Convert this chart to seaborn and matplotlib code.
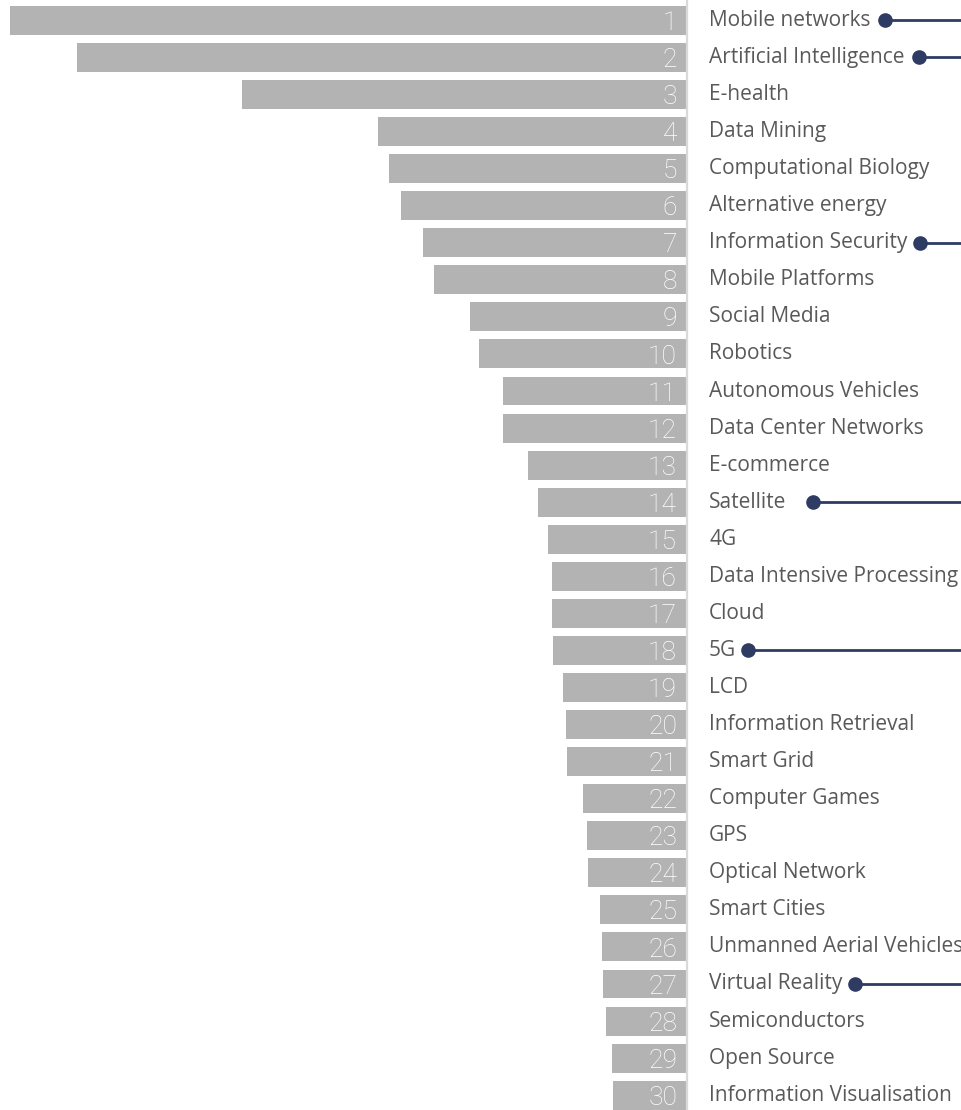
import matplotlib
matplotlib.use("Agg")
import matplotlib.pyplot as plt
import seaborn as sns
import pandas as pd
import numpy as np

topics = ["Mobile networks", "Artificial Intelligence", "E-health", "Data Mining",
          "Computational Biology", "Alternative energy", "Information Security",
          "Mobile Platforms", "Social Media", "Robotics", "Autonomous Vehicles",
          "Data Center Networks", "E-commerce", "Satellite", "4G",
          "Data Intensive Processing", "Cloud", "5G", "LCD", "Information Retrieval",
          "Smart Grid", "Computer Games", "GPS", "Optical Network", "Smart Cities",
          "Unmanned Aerial Vehicles", "Virtual Reality", "Semiconductors",
          "Open Source", "Information Visualisation"]
scores = [676, 609, 444, 308, 297, 285, 263, 252, 216, 207, 183, 183, 158, 148, 138,
          134, 134, 133, 123, 120, 119, 103, 99, 98, 86, 84, 83, 80, 74, 73]
ranks = list(range(1, 31))
highlighted = ["Mobile networks", "Artificial Intelligence", "Information Security",
               "Satellite", "5G", "Virtual Reality"]
marker_offset_px = [14, 14, 13, 27, 12, 13]

df = pd.DataFrame({"topic": topics, "score": scores, "rank": ranks})

sns.set_style("white")
W, H, DPI = 961, 1110, 100
fig = plt.figure(figsize=(W / DPI, H / DPI), dpi=DPI)
axw = 686 / W
ax = fig.add_axes([0, 0, axw, 1])

sns.barplot(data=df, y="topic", x="score", orient="h", color="#b3b3b3",
            saturation=1, width=0.78, ax=ax, edgecolor="none")
ax.set_xlim(686, 0)
ax.set_ylim(29.4, -0.55)
ax.axis("off")

# vertical divider
fig.add_artist(plt.Line2D([687 / W, 687 / W], [0, 1], color="#d9d9d9", lw=1.6))

for i, r in enumerate(df["rank"]):
    ax.text(9, i + 0.07, str(r), ha="right", va="center", color="white",
            fontsize=19, fontweight="light", family="Roboto")

label_color = "#595959"
texts = []
for i, t in enumerate(df["topic"]):
    y_fig = ax.transData.transform((0, i))[1]
    tx = fig.text(709 / W, y_fig / H, t, ha="left", va="center", color=label_color,
                  fontsize=15, family="Open Sans")
    texts.append(tx)

fig.canvas.draw()
renderer = fig.canvas.get_renderer()
navy = "#2e3b63"
for name, off in zip(highlighted, marker_offset_px):
    idx = topics.index(name)
    bb = texts[idx].get_window_extent(renderer)
    y_fig = ax.transData.transform((0, idx))[1] / H
    x0 = (bb.x1 + off) / W
    fig.add_artist(plt.Line2D([x0, 1], [y_fig, y_fig], color=navy, lw=2))
    fig.add_artist(plt.Line2D([x0], [y_fig], marker="o", markersize=9.5,
                              color=navy, lw=0))

fig.savefig("out.png", dpi=DPI)
